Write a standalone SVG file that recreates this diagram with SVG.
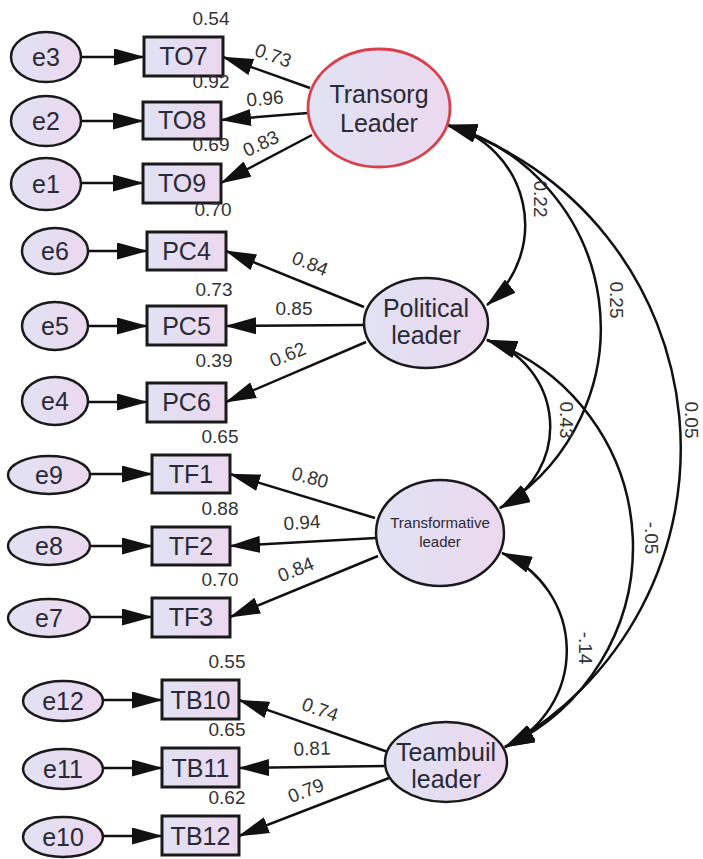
<svg xmlns="http://www.w3.org/2000/svg" width="703" height="859" viewBox="0 0 703 859">
  <defs>
    <linearGradient id="fillGrad" x1="0" y1="0" x2="1" y2="0">
      <stop offset="0" stop-color="#e0e2f3"/>
      <stop offset="1" stop-color="#ecd8ef"/>
    </linearGradient>
    <marker id="arrow" markerUnits="userSpaceOnUse" markerWidth="31" markerHeight="17" viewBox="0 0 31 17" refX="30" refY="8.5" orient="auto-start-reverse">
      <path d="M0,0 L31,8.5 L0,17 z" fill="#111"/>
    </marker>
    <style>
      .err { fill: url(#fillGrad); stroke: #1a1a1a; stroke-width: 2.5; }
      .obs { fill: url(#fillGrad); stroke: #1a1a1a; stroke-width: 3; }
      .lat { fill: url(#fillGrad); stroke: #1a1a1a; stroke-width: 2.5; }
      .lat-red { fill: url(#fillGrad); stroke: #d8404c; stroke-width: 2.8; }
      .lbl { font-family: "Liberation Sans", Arial, sans-serif; font-size: 25px; fill: #2a2a36; text-anchor: middle; }
      .small { font-family: "Liberation Sans", Arial, sans-serif; font-size: 15px; fill: #2a2a36; text-anchor: middle; }
      .num { font-family: "Liberation Sans", Arial, sans-serif; font-size: 19px; fill: #333; text-anchor: middle; }
      .edge { fill: none; stroke: #111; stroke-width: 2.5; marker-end: url(#arrow); }
      .cov { fill: none; stroke: #111; stroke-width: 2.5; marker-start: url(#arrow); marker-end: url(#arrow); }
    </style>
  </defs>
  <rect width="703" height="859" fill="#fff"/>

  <!-- connectors -->
  <g id="connectors">
    <!-- error terms to indicators -->
    <path class="edge" d="M81,57 L144,57"/>
    <path class="edge" d="M81,121 L143,121"/>
    <path class="edge" d="M81,183 L143,183"/>
    <path class="edge" d="M88,251 L147,251"/>
    <path class="edge" d="M88,326 L147,326"/>
    <path class="edge" d="M88,402 L147,402"/>
    <path class="edge" d="M90,474 L152,474"/>
    <path class="edge" d="M90,546 L152,546"/>
    <path class="edge" d="M90,617 L152,617"/>
    <path class="edge" d="M103,700 L162,700"/>
    <path class="edge" d="M103,768 L162,768"/>
    <path class="edge" d="M103,836 L162,836"/>
    <!-- loadings -->
    <path class="edge" d="M310,88 L223,57"/>
    <path class="edge" d="M308,113 L221,120"/>
    <path class="edge" d="M312,135 L221,183"/>
    <path class="edge" d="M364,307 L226,251"/>
    <path class="edge" d="M363,325 L226,326"/>
    <path class="edge" d="M366,342 L226,402"/>
    <path class="edge" d="M375,518 L230,474"/>
    <path class="edge" d="M376,538 L230,546"/>
    <path class="edge" d="M378,556 L230,617"/>
    <path class="edge" d="M388,752 L239,700"/>
    <path class="edge" d="M386,766 L239,768"/>
    <path class="edge" d="M389,778 L239,836"/>
    <!-- covariances -->
    <path class="cov" d="M447,125 A103,103 0 0 1 487,305"/>
    <path class="cov" d="M447,125 A211,211 0 0 1 500,508"/>
    <path class="cov" d="M447,125 A341,341 0 0 1 505,747"/>
    <path class="cov" d="M487,340 A91,91 0 0 1 500,508"/>
    <path class="cov" d="M487,340 A220,220 0 0 1 505,747"/>
    <path class="cov" d="M502,553 A106,106 0 0 1 505,747"/>
  </g>

  <!-- connector values -->
  <g id="edge-values">
    <text class="num" transform="translate(273,56) rotate(20)" y="6">0.73</text>
    <text class="num" transform="translate(265,99) rotate(-5)" y="6">0.96</text>
    <text class="num" transform="translate(261,144) rotate(-25)" y="6">0.83</text>
    <text class="num" transform="translate(310,264) rotate(22)" y="6">0.84</text>
    <text class="num" transform="translate(294,309)" y="6">0.85</text>
    <text class="num" transform="translate(288,355) rotate(-22)" y="6">0.62</text>
    <text class="num" transform="translate(310,478) rotate(15)" y="6">0.80</text>
    <text class="num" transform="translate(302,523) rotate(-4)" y="6">0.94</text>
    <text class="num" transform="translate(296,570) rotate(-22)" y="6">0.84</text>
    <text class="num" transform="translate(320,710) rotate(20)" y="6">0.74</text>
    <text class="num" transform="translate(312,749) rotate(-2)" y="6">0.81</text>
    <text class="num" transform="translate(306,791) rotate(-21)" y="6">0.79</text>
    <text class="num" transform="translate(540,199) rotate(90)" y="6">0.22</text>
    <text class="num" transform="translate(616,300) rotate(90)" y="6">0.25</text>
    <text class="num" transform="translate(691,420) rotate(90)" y="6">0.05</text>
    <text class="num" transform="translate(566,420) rotate(90)" y="6">0.43</text>
    <text class="num" transform="translate(651,538) rotate(90)" y="6">-.05</text>
    <text class="num" transform="translate(585,648) rotate(90)" y="6">-.14</text>
  </g>

  <!-- error terms -->
  <g id="e3"><ellipse class="err" cx="46" cy="57" rx="35" ry="25"/><text class="lbl" x="46" y="66">e3</text></g>
  <g id="e2"><ellipse class="err" cx="46" cy="121" rx="35" ry="25"/><text class="lbl" x="46" y="130">e2</text></g>
  <g id="e1"><ellipse class="err" cx="46" cy="184" rx="35" ry="26"/><text class="lbl" x="46" y="193">e1</text></g>
  <g id="e6"><ellipse class="err" cx="55" cy="251" rx="33" ry="23"/><text class="lbl" x="55" y="260">e6</text></g>
  <g id="e5"><ellipse class="err" cx="55" cy="326" rx="33" ry="24"/><text class="lbl" x="55" y="335">e5</text></g>
  <g id="e4"><ellipse class="err" cx="55" cy="401" rx="33" ry="24"/><text class="lbl" x="55" y="410">e4</text></g>
  <g id="e9"><ellipse class="err" cx="49" cy="475" rx="41" ry="19"/><text class="lbl" x="49" y="484">e9</text></g>
  <g id="e8"><ellipse class="err" cx="49" cy="546" rx="41" ry="19"/><text class="lbl" x="49" y="555">e8</text></g>
  <g id="e7"><ellipse class="err" cx="49" cy="618" rx="41" ry="19"/><text class="lbl" x="49" y="627">e7</text></g>
  <g id="e12"><ellipse class="err" cx="63" cy="701" rx="40" ry="20"/><text class="lbl" x="63" y="710">e12</text></g>
  <g id="e11"><ellipse class="err" cx="63" cy="769" rx="40" ry="20"/><text class="lbl" x="63" y="778">e11</text></g>
  <g id="e10"><ellipse class="err" cx="63" cy="837" rx="40" ry="20"/><text class="lbl" x="63" y="846">e10</text></g>

  <!-- observed indicators with squared multiple correlations -->
  <g id="TO7"><rect class="obs" x="144" y="37" width="79" height="39"/><text class="lbl" x="183.5" y="65">TO7</text><text class="num" x="211" y="25">0.54</text></g>
  <g id="TO8"><rect class="obs" x="143" y="102" width="78" height="37"/><text class="lbl" x="182" y="129">TO8</text><text class="num" x="211" y="88">0.92</text></g>
  <g id="TO9"><rect class="obs" x="143" y="164" width="78" height="39"/><text class="lbl" x="182" y="192">TO9</text><text class="num" x="211" y="151">0.69</text></g>
  <g id="PC4"><rect class="obs" x="147" y="232" width="79" height="38"/><text class="lbl" x="186.5" y="260">PC4</text><text class="num" x="213" y="216">0.70</text></g>
  <g id="PC5"><rect class="obs" x="147" y="306" width="79" height="39"/><text class="lbl" x="186.5" y="335">PC5</text><text class="num" x="214" y="296">0.73</text></g>
  <g id="PC6"><rect class="obs" x="147" y="383" width="79" height="39"/><text class="lbl" x="186.5" y="411">PC6</text><text class="num" x="214" y="367">0.39</text></g>
  <g id="TF1"><rect class="obs" x="152" y="455" width="78" height="38"/><text class="lbl" x="191" y="483">TF1</text><text class="num" x="220" y="443">0.65</text></g>
  <g id="TF2"><rect class="obs" x="152" y="527" width="78" height="38"/><text class="lbl" x="191" y="555">TF2</text><text class="num" x="220" y="515">0.88</text></g>
  <g id="TF3"><rect class="obs" x="152" y="598" width="78" height="39"/><text class="lbl" x="191" y="626">TF3</text><text class="num" x="220" y="586">0.70</text></g>
  <g id="TB10"><rect class="obs" x="162" y="680" width="77" height="39"/><text class="lbl" x="200.5" y="709">TB10</text><text class="num" x="227" y="668">0.55</text></g>
  <g id="TB11"><rect class="obs" x="162" y="748" width="77" height="39"/><text class="lbl" x="200.5" y="777">TB11</text><text class="num" x="227" y="736">0.65</text></g>
  <g id="TB12"><rect class="obs" x="162" y="816" width="77" height="39"/><text class="lbl" x="200.5" y="845">TB12</text><text class="num" x="227" y="804">0.62</text></g>

  <!-- latent factors -->
  <g id="transorg-leader"><ellipse class="lat-red" cx="379" cy="108" rx="71" ry="59"/><text class="lbl" x="379" y="103">Transorg</text><text class="lbl" x="379" y="132">Leader</text></g>
  <g id="political-leader"><ellipse class="lat" cx="426" cy="323" rx="62" ry="45"/><text class="lbl" x="426" y="317">Political</text><text class="lbl" x="426" y="344">leader</text></g>
  <g id="transformative-leader"><ellipse class="lat" cx="440" cy="533" rx="64" ry="53"/><text class="small" x="440" y="528">Transformative</text><text class="small" x="440" y="547">leader</text></g>
  <g id="teambuil-leader"><ellipse class="lat" cx="446" cy="762" rx="61" ry="40"/><text class="lbl" x="446" y="761">Teambuil</text><text class="lbl" x="446" y="788">leader</text></g>
</svg>
